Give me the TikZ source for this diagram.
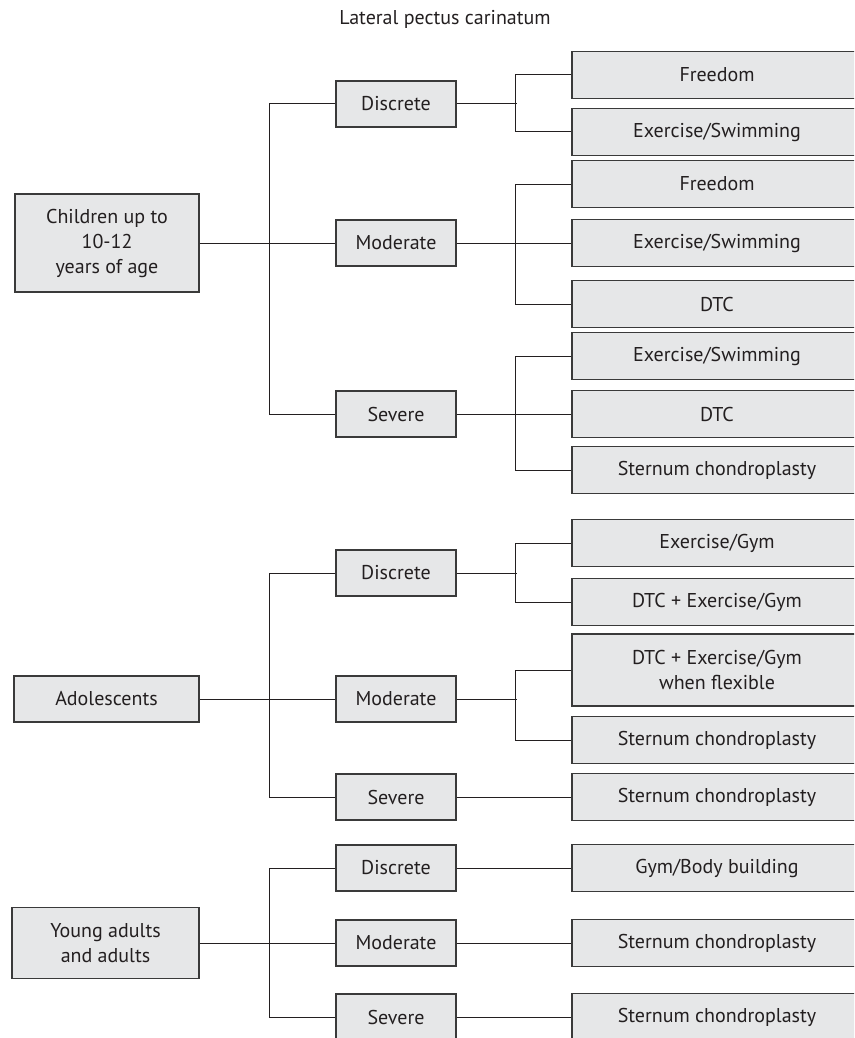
\documentclass[tikz,border=0pt]{standalone}
\usepackage{fontspec}
\setmainfont{PT Sans}
\definecolor{boxfill}{HTML}{E6E7E8}
\definecolor{boxline}{HTML}{3A3A3A}
\definecolor{txt}{HTML}{231F20}
\tikzset{
  box/.style={draw=boxline, fill=boxfill, line width=1.2pt, inner sep=0pt,
    align=center, text=txt, font=\fontsize{20}{25}\selectfont},
  lbox/.style={box},
  mbox/.style={box, minimum width=120pt, minimum height=46pt},
  rbox/.style={box, minimum width=290pt, minimum height=47pt},
  conn/.style={draw=txt, line width=1pt},
}
\begin{document}
\begin{tikzpicture}[x=1pt,y=-1pt]
\useasboundingbox (0,0) rectangle (854,1038);
\clip (0,0) rectangle (854,1038);
\node[text=txt, font=\fontsize{20}{24}\selectfont, anchor=base] (title) at (445,25) {Lateral pectus carinatum};

% left boxes
\node[lbox, minimum width=184pt, minimum height=98pt] (C) at (107,243) {Children up to\\10-12\\years of age};
\node[lbox, minimum width=185pt, minimum height=46pt] (A) at (106.5,699) {Adolescents};
\node[lbox, minimum width=187pt, minimum height=71pt] (Y) at (105.5,943) {Young adults\\and adults};

% middle boxes
\node[mbox] (Cd) at (396,104) {Discrete};
\node[mbox] (Cm) at (396,243) {Moderate};
\node[mbox] (Cs) at (396,414) {Severe};
\node[mbox] (Ad) at (396,573) {Discrete};
\node[mbox] (Am) at (396,699) {Moderate};
\node[mbox] (As) at (396,797) {Severe};
\node[mbox] (Yd) at (396,868) {Discrete};
\node[mbox] (Ym) at (396,943) {Moderate};
\node[mbox] (Ys) at (396,1017) {Severe};

% right boxes
\node[rbox] (Cd1) at (717,75) {Freedom};
\node[rbox] (Cd2) at (717,132) {Exercise/Swimming};
\node[rbox] (Cm1) at (717,184) {Freedom};
\node[rbox] (Cm2) at (717,243) {Exercise/Swimming};
\node[rbox] (Cm3) at (717,304) {DTC};
\node[rbox] (Cs1) at (717,356) {Exercise/Swimming};
\node[rbox] (Cs2) at (717,414) {DTC};
\node[rbox] (Cs3) at (717,470) {Sternum chondroplasty};
\node[rbox] (Ad1) at (717,543) {Exercise/Gym};
\node[rbox] (Ad2) at (717,602) {DTC + Exercise/Gym};
\node[rbox, minimum height=72pt] (Am1) at (717,670) {DTC + Exercise/Gym\\when flexible};
\node[rbox] (Am2) at (717,740) {Sternum chondroplasty};
\node[rbox] (As1) at (717,797) {Sternum chondroplasty};
\node[rbox] (Yd1) at (717,868) {Gym/Body building};
\node[rbox] (Ym1) at (717,943) {Sternum chondroplasty};
\node[rbox] (Ys1) at (717,1017) {Sternum chondroplasty};

% trunk connectors
\draw[conn] (C.east) -- (Cm.west);
\draw[conn] (Cd.west) -- ++(-66,0) |- (Cs.west);
\draw[conn] (A.east) -- (Am.west);
\draw[conn] (Ad.west) -- ++(-66,0) |- (As.west);
\draw[conn] (Y.east) -- (Ym.west);
\draw[conn] (Yd.west) -- ++(-66,0) |- (Ys.west);

% branch connectors
\draw[conn] (Cd.east) -- ++(60,0);
\draw[conn] (Cd1.west) -- ++(-56,0) |- (Cd2.west);
\draw[conn] (Cm.east) -- (Cm2.west);
\draw[conn] (Cm1.west) -- ++(-56,0) |- (Cm3.west);
\draw[conn] (Cs.east) -- (Cs2.west);
\draw[conn] (Cs1.west) -- ++(-56,0) |- (Cs3.west);
\draw[conn] (Ad.east) -- ++(60,0);
\draw[conn] (Ad1.west) -- ++(-56,0) |- (Ad2.west);
\draw[conn] (Am.east) -- ++(60,0);
\draw[conn] (Am1.west) -- ++(-56,0) |- (Am2.west);
\draw[conn] (As.east) -- (As1.west);
\draw[conn] (Yd.east) -- (Yd1.west);
\draw[conn] (Ym.east) -- (Ym1.west);
\draw[conn] (Ys.east) -- (Ys1.west);
\end{tikzpicture}
\end{document}
